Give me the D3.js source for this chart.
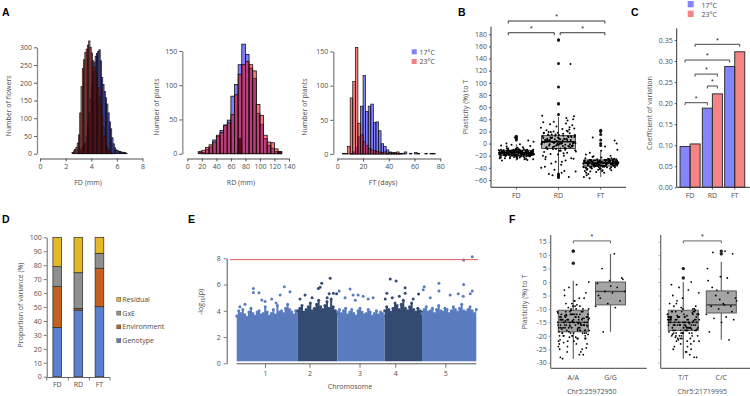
<!DOCTYPE html>
<html><head><meta charset="utf-8">
<script src="https://cdn.jsdelivr.net/npm/d3@7/dist/d3.min.js"></script>
<style>
html,body{margin:0;padding:0;background:#fff;}
svg{display:block;}
</style></head>
<body>
<svg id="chart" width="750" height="396"></svg>
<script>
// ================= DATA =================
const temps = ["17°C", "23°C"];
const traits = ["FD", "RD", "FT"];

// ---- Panel A: histograms (counts per bin) ----
const fd17Start = 2.9, fd23Start = 2.5, fdBin = 0.1;
const fd17 = [2,4,8,14,20,25,30,50,80,115,155,195,230,258,275,283,288,293,262,215,195,175,158,140,115,90,70,45,28,17,11,9,7,6,5,4,4,3,1];
const fd23 = [3,8,12,18,30,53,115,189,240,265,285,295,306,318,300,284,262,245,232,210,185,160,135,105,75,50,30,18,10,5,3,1];
const fdXTicks = [0,2,4,6,8], fdYTicks = [0,50,100,150,200,250,300];

const rdStart = 15, rdBin = 5;
const rd17 = [0,2,6,10,20,25,34,42,49,84,101,130,160,145,125,110,59,43,22,12,8,3,1];
const rd23 = [0,5,9,13,17,27,31,41,45,57,86,116,130,135,130,121,72,56,27,17,16,7,3];
const rdDark = [3,0,0,0,0,0,0,0,0,0,0,22,0,0,0,0,0,0,0,0,0,0,3];
const rdXTicks = [0,20,40,60,80,100,120,140], rdYTicks = [0,50,100,150];

const ftStart = 4, ftBin = 2;
const ft17 = [0,0,0,1,3,10,25,70,115,62,70,73,46,47,34,15,11,6,3,2,2,1,1,1,3,0,1,0,2,1,0,0,1,0,1,0];
const ft23 = [1,1,11,82,106,156,45,28,18,12,8,6,5,4,3,2,3,1,2,1,1,3,1,0,0,0,0,0,0,0,0,0,0,0,0,1];
const ftXTicks = [0,20,40,60,80], ftYTicks = [0,50,100,150];

// ---- Panel B: plasticity (%) to T ----
const bYTicks = [-60,-40,-20,0,20,40,60,80,100,120,140,160,180];
const bQ1 = [-19,-8,-37], bMed = [-15,3,-32], bQ3 = [-11,13,-27], bLo = [-28,-52,-55], bHi = [-1,44,-13];
const bPtsFD = [-15,-12,-18,-20,-14,-9,-22,-16,-13,-17,-11,-19,-24,-15,-8,-21,-14,-12,-16,-18,-10,-23,-15,-13,-17,-20,-6,-14,-16,-12,-19,-25,-11,-15,-17,-13,-21,-9,-16,-18,-14,-12,-20,-15,-27,-10,-17,-13,-16,-19,-22,-14,-11,-15,-18,-12,-5,-16,-20,-13,-17,-24,-15,-9,-14,-19,-12,-16,-21,-11,-18,-15,-13,-26,-17,-14,-10,-20,-16,-12,-23,-15,-18,-13,-7,-19,-14,-16,-11,-21,-17,-15,-12,-28,-18,-14,-13,-16,-20,-10,-15,-22,-17,-12,-4,-19,-14,-16,-2,3,-1,0,5,10,-3,
  -16,-13,-19,-11,-17,-21,-14,-18,-12,-15,-20,-9,-16,-23,-13,-17,-10,-19,-14,-22,-15,-12,-18,-16,-25,-11,-14,-20,-17,-13,-8,-16,-19,-15,-21,-12,-18,-14,-24,-17,-13,-15,-19,-11,-16,-22,-14,-18,-12,-26,-15,-17,-20,-13,-10,-16,-19,-14,-18,-15];
const bPtsRD = [5,-3,12,0,18,-8,3,25,-12,8,-5,15,2,-20,10,30,-2,6,-15,20,1,-30,14,-7,4,35,-10,9,-25,0,22,-4,7,-40,16,-1,11,-18,3,42,-6,13,-35,5,27,-9,2,-45,19,-3,8,-22,38,1,-13,24,-50,6,-2,17,-28,10,45,-8,4,-55,13,0,-16,32,-5,9,-38,21,2,-11,-48,15,-1,28,-20,7,-33,40,3,-7,12,-43,26,-4,5,-24,18,-14,33,-52,11,0,-9,23,-30,46,8,-17,-3,14,-26,6,36,-46,1,19,131,
  4,9,-2,15,1,7,-6,11,3,-1,13,6,-4,10,2,8,-9,14,0,5,17,-3,12,-7,9,1,-12,6,20,-5];
const bPtsFT = [-32,-28,-36,-30,-40,-25,-34,-31,-38,-27,-44,-33,-29,-35,-22,-37,-30,-42,-26,-33,-31,-48,-28,-35,-39,-24,-32,-36,-29,-45,-34,-20,-31,-38,-27,-41,-33,-30,-52,-26,-35,-29,-37,-15,-32,-43,-28,-34,-31,-39,-23,-36,-30,-47,-33,-27,-40,-29,-35,-18,-32,-38,-26,-44,-31,-34,-28,-55,-36,-30,-25,-41,-33,-29,-37,-10,-32,-46,-27,-35,-31,-39,-21,-34,-30,-50,-28,-36,-33,-5,-38,-26,-42,-31,-29,-35,0,-32,-57,-24,-37,-30,-34,10,5,-12,
  -33,-29,-36,-31,-38,-27,-34,-30,-40,-32,-28,-35,-37,-31,-33,-26,-39,-30,-34,-29,-36,-43,-32,-28,-35,-31,-38,-33,-30,-45,-27,-34,-32,-36,-29,-41,-33,-31,-37,-30,-35,-28,-48,-32,-34,-30,-36,-31,-39,-33];
const bOutFD = [12,10,8,6];
const bOutRD = [170,171,132,93,66,65,48,-50,-52,-54,-56];
const bOutFT = [22,20,15,6,0,-3];

// ---- Panel C: coefficient of variation ----
const cv17 = [0.097, 0.188, 0.287];
const cv23 = [0.103, 0.222, 0.322];
const cYTicks = [0,0.05,0.10,0.15,0.20,0.25,0.30,0.35];

// ---- Panel D: proportion of variance (%) ----
const varNames = ["Genotype","Environment","GxE","Residual"];
const vGenotype = [35.4, 47.8, 50.2];
const vEnvironment = [29.2, 1.2, 27.6];
const vGxE = [14.4, 25.6, 10.7];
const vResidual = [21.0, 25.4, 11.5];
const dYTicks = [0,10,20,30,40,50,60,70,80,90,100];

// ---- Panel E: Manhattan plot ----
const chrNames = ["1","2","3","4","5"];
const chrLen = [30.4, 19.7, 23.5, 18.6, 27.0];
const chrTickPos = [14.1, 5.8, 11.0, 5.3, 11.6];
const eYTicks = [0,2,4,6,8];
const eThreshold = 7.9;
const env1 = [3.6,4.0,3.8,4.1,3.7,3.5,3.9,4.2,3.8,3.6,3.9,4.0,3.7,3.8,4.3,3.9,3.6,3.8,4.1,3.7,4.4,3.9,4.0,3.8,4.2,4.5,4.1,3.9,3.7,4.0,3.8];
const env2 = [4.0,4.2,4.4,3.9,4.1,4.3,4.6,4.0,4.2,4.5,4.8,4.3,4.1,4.4,4.7,4.2,4.9,4.3,4.0,3.8];
const env3 = [3.9,4.1,3.8,4.0,4.2,3.7,3.9,4.1,3.8,3.6,4.0,4.2,3.9,3.7,3.8,4.1,3.9,3.6,3.8,4.0,3.7,3.9,3.8,3.6];
const env4 = [4.0,4.3,4.1,3.9,4.2,4.6,4.4,4.1,4.5,4.8,4.2,4.0,4.3,4.6,4.1,3.9,4.2,4.0,3.9];
const env5 = [3.8,4.1,4.3,3.9,4.0,4.2,3.8,4.1,4.4,4.0,3.9,4.2,4.1,3.8,4.0,4.3,4.1,3.9,4.2,4.5,4.0,3.9,4.1,4.3,4.0,3.8,4.1];
const ePeaks = [
 [0,8.3,5.7],[0,8.3,5.4],[0,11.1,5.38],[0,23.7,5.84],[0,26.5,5.46],[0,21.6,5.2],[0,12.5,4.82],[0,17.4,4.9],[0,4.1,4.5],[0,1.6,4.3],[0,19.6,4.6],[0,14.1,4.7],
 [1,16.1,6.48],[1,11.9,6.1],[1,11.1,5.8],[1,10.2,5.7],[1,17.7,5.33],[1,15.6,5.3],[1,3.6,5.2],[1,7.1,5.0],[1,1.1,4.9],[1,14.6,5.0],[1,19.3,5.3],
 [2,6.3,5.66],[2,0.9,5.5],[2,7.8,5.2],[2,10.3,5.2],[2,3.8,5.0],[2,12.8,5.1],[2,15.3,4.9],[2,17.8,5.0],[2,8.9,4.8],
 [3,2.8,6.42],[3,5.7,6.27],[3,10.2,5.76],[3,1.1,5.33],[3,10.2,5.33],[3,16.9,5.28],[3,3.8,5.0],[3,7.3,5.1],[3,14.2,4.9],[3,0.3,4.9],
 [4,8.4,6.1],[4,20.7,6.0],[4,1.1,5.84],[4,8.4,5.5],[4,0.6,5.6],[4,18.0,5.3],[4,14.0,5.2],[4,20.5,5.1],[4,4.1,5.0],[4,24.0,5.3],[4,25.0,5.5],[4,20.7,7.87],[4,25.0,8.12]
];

// ---- Panel F: plasticity by genotype ----
const fYTicks = [15,10,5,0,-5,-10,-15,-20,-25,-30];
const fYTickLabels = ["15","10","5","0","5","-10","-15","-20","-25","-30"];
const fGeno1 = ["A/A","G/G"], fGeno2 = ["T/T","C/C"];
const fSnp = ["Chr5:25972950","Chr5:21719995"];
const fQ1 = [-18.5,-8.5,-18,-11.5], fMed = [-15,-3.5,-15,-8.5], fQ3 = [-10.5,0,-10.5,-3.3], fLo = [-28.5,-18.5,-28.5,-21.5], fHi = [0.5,10.5,0,7.5];
const fPtsAA = [-15,-12.5,-18,-20,-14,-9,-22,-16.5,-13,-17,-11,-19,-24,-15.5,-8,-21,-14,-12,-16,-18.5,-10,-23,-15,-13.5,-17,-20,-6,-14,-16,-12,-19,-25,-11,-15,-17.5,-13,-21,-9,-16,-18,-14,-12,-20.5,-15,-27,-10,-17,-13,-16,-19,-22,-14,-11,-15,-18,-12,-5,-16,-20,-13,-17,-24,-15,-9,-14,-19,-12,-16,-21,-11,-18,-15,-13,-26,-17,-14,-10,-20,-16,-12,-23,-15,-18,-13,-7,-19,-14,-16,-11,-21,-17,-15,-12,-28,-18,-14,-13,-16,-20,-10,-15,-22,-17,-12,-4,-19,-14,-16,-2,0,-1,-3,-6,-8,-25,-27,-26,-23,-7,-28.5,
  -13.5,-16.5,-11.5,-18,-14.5,-20,-12,-17,-15.5,-9.5,-19.5,-13,-22.5,-16,-10.5,-18.5,-14,-12.5,-24.5,-15,-17.5,-11,-20.5,-13.5,-8.5,-16,-19,-14.5,-21.5,-12];
const fPtsGG = [10.5,5,1.5,0.5,-0.5,-2,-3.5,-3.5,-4,-6,-7,-8,-9,-9.5,-18.5,1,-1.5,-5];
const fPtsTT = [-14,-16,-11,-19,-13,-17,-21,-12,-15,-18,-10,-23,-16,-14,-20,-9,-17,-13,-25,-15,-12,-18,-16,-22,-11,-14,-19,-7,-15,-13,-17,-20,-16,-12,-24,-14,-18,-10,-15,-21,-13,-17,-26,-16,-11,-19,-14,-15,-8,-18,-12,-20,-16,-13,-22,-17,-15,-10,-19,-14,-27,-16,-12,-18,-5,-15,-21,-13,-17,-11,-16,-19,-14,-23,-15,-12,-18,-9,-16,-20,-13,-17,-14,-28,-15,-11,-19,-16,-12,-22,-18,-14,-6,-15,-17,-13,-20,-16,-25,-12,-18,-15,-3,-19,-14,-17,-1,0,-2,-4,-26,-24,-28,-21,-8,
  -15.5,-12.5,-17.5,-13,-19.5,-11.5,-16,-14,-18,-20.5,-10.5,-15,-13.5,-17,-21.5,-12,-16.5,-19,-14.5,-9.5,-18.5,-15,-22,-13,-16,-11,-17.5,-20,-14,-12.5];
const fPtsCC = [11.5,11,10.5,2,0.5,-4,-5,-6,-8,-9,-9,-10,-12,-13,-13.5,-14,-15,-18.5,-21.5,-3,-7,-8.5,-2,-11,-6.5,5,1.5];
const fOut = [[11.5,11.5,7],[],[5,1.5],[11.5,10.5]];

// ================= DRAWING =================
const svg = d3.select("#chart");
const FONT = "'Open Sans','Liberation Sans',sans-serif";
const TXT = "#4d4d4d";
const BLUE = "rgb(0,0,255)", RED = "rgb(235,0,0)";

function text(x, y, s, o = {}) {
  const t = svg.append("text").attr("x", x).attr("y", y).text(s)
    .attr("font-family", o.font || FONT).attr("font-size", o.size || 7)
    .attr("fill", o.fill || TXT).attr("text-anchor", o.anchor || "start");
  if (o.weight) t.attr("font-weight", o.weight);
  if (o.rotate) t.attr("transform", `rotate(-90,${x},${y})`);
  return t;
}
function panelLetter(x, y, s) { text(x, y, s, { size: 10.5, weight: "bold", fill: "#000", font: "'Liberation Sans',Arial,sans-serif" }); }
function styleAxis(g, col, w, tcol) {
  g.selectAll("path.domain").attr("stroke", col).attr("stroke-width", w);
  g.selectAll(".tick line").attr("stroke", tcol || col).attr("stroke-width", 0.8);
  g.selectAll(".tick text").attr("fill", TXT).attr("font-family", FONT).attr("font-size", 7);
}
const jit = i => (((i + 1) * 0.6180339887) % 1) * 2 - 1;
function bracket(x1, x2, yy, col) {
  svg.append("path").attr("d", `M${x1},${yy + 2.5}V${yy}H${x2}V${yy + 2.5}`).attr("fill", "none").attr("stroke", col).attr("stroke-width", 0.9);
  text((x1 + x2) / 2, yy - 1.8, "*", { anchor: "middle", size: 7, fill: "#222", font: "'Liberation Sans',Arial,sans-serif" });
}

// ---------- Panel A ----------
function histPanel(o) {
  const x = d3.scaleLinear().domain([o.xTicks[0], o.xTicks[o.xTicks.length - 1]]).range(o.xRange);
  const y = d3.scaleLinear().domain([0, o.yTicks[o.yTicks.length - 1]]).range(o.yRange);
  const g = svg.append("g");
  o.series.forEach(s => {
    const bins = s.counts.map((c, i) => ({ x0: s.start + i * o.bw, c })).filter(d => d.c > 0);
    g.selectAll(null).data(bins).join("rect")
      .attr("x", d => x(d.x0)).attr("width", d => x(d.x0 + o.bw) - x(d.x0))
      .attr("y", d => y(d.c)).attr("height", d => y(0) - y(d.c))
      .attr("fill", s.color).attr("fill-opacity", s.op)
      .attr("stroke", "#111").attr("stroke-width", o.sw);
  });
  const ya = svg.append("g").attr("transform", `translate(${o.yAxisX},0)`)
    .call(d3.axisLeft(y).tickValues(o.yTicks).tickSize(3).tickSizeOuter(0).tickPadding(2));
  styleAxis(ya, "#8a8a8a", 1.3, "#333");
  const xa = svg.append("g").attr("transform", `translate(0,${o.xAxisY})`)
    .call(d3.axisBottom(x).tickValues(o.xTicks).tickSize(3).tickSizeOuter(0).tickPadding(3));
  styleAxis(xa, "#8a8a8a", 1.3, "#333");
  text(o.yTitle[0], o.yTitle[1], o.yTitle[2], { anchor: "middle", rotate: true, size: 7 });
  text(o.xTitle[0], o.xTitle[1], o.xTitle[2], { anchor: "middle", size: 7 });
}
histPanel({ xTicks: fdXTicks, xRange: [40, 142.5], yTicks: fdYTicks, yRange: [153.7, 47.3], bw: fdBin, sw: 0.7,
  series: [{ counts: fd17, start: fd17Start, color: BLUE, op: 0.55 }, { counts: fd23, start: fd23Start, color: RED, op: 0.55 }],
  yAxisX: 37, xAxisY: 158.5, yTitle: [11, 106, "Number of flowers"], xTitle: [88, 185, "FD (mm)"] });
histPanel({ xTicks: rdXTicks, xRange: [187.3, 289], yTicks: rdYTicks, yRange: [153.7, 51], bw: rdBin, sw: 0.8,
  series: [{ counts: rd17, start: rdStart, color: BLUE, op: 0.5 }, { counts: rd23, start: rdStart, color: RED, op: 0.5 }, { counts: rdDark, start: rdStart, color: "#5a0018", op: 0.9 }],
  yAxisX: 182.3, xAxisY: 158.5, yTitle: [158.5, 107, "Number of plants"], xTitle: [241, 185, "RD (mm)"] });
histPanel({ xTicks: ftXTicks, xRange: [337.3, 440.3], yTicks: ftYTicks, yRange: [154, 51.5], bw: ftBin, sw: 0.7,
  series: [{ counts: ft17, start: ftStart, color: BLUE, op: 0.5 }, { counts: ft23, start: ftStart, color: RED, op: 0.5 }],
  yAxisX: 333.3, xAxisY: 158.5, yTitle: [307, 107, "Number of plants"], xTitle: [383, 185, "FT (days)"] });
[BLUE, RED].forEach((c, i) => {
  svg.append("rect").attr("x", 411.7).attr("y", 49.3 + i * 9.7).attr("width", 5).attr("height", 5).attr("fill", c).attr("fill-opacity", 0.5);
  text(419.5, 54.5 + i * 9.7, temps[i], { size: 7 });
});
panelLetter(2, 16, "A");

// ---------- Panel B ----------
{
  const y = d3.scaleLinear().domain([-60, 180]).range([180, 34.3]);
  const x = d3.scaleLinear().domain([0.4, 3.6]).range([491, 626]);
  const unit = x(1) - x(0);
  const pts = [bPtsFD, bPtsRD, bPtsFT], outs = [bOutFD, bOutRD, bOutFT];
  traits.forEach((t, k) => {
    const cx = x(k + 1), hw = 0.4 * unit;
    svg.append("line").attr("x1", cx).attr("x2", cx).attr("y1", y(bHi[k])).attr("y2", y(bLo[k])).attr("stroke", "#222").attr("stroke-width", 0.8);
    svg.append("rect").attr("x", cx - hw).attr("width", 2 * hw).attr("y", y(bQ3[k])).attr("height", y(bQ1[k]) - y(bQ3[k]))
      .attr("fill", "#9a9a9a").attr("fill-opacity", 0.7).attr("stroke", "#222").attr("stroke-width", 0.8);
    svg.append("line").attr("x1", cx - hw).attr("x2", cx + hw).attr("y1", y(bMed[k])).attr("y2", y(bMed[k])).attr("stroke", "#111").attr("stroke-width", 1.3);
    svg.selectAll(null).data(pts[k]).join("circle").attr("cx", (d, i) => cx + jit(i) * 0.42 * unit).attr("cy", d => y(d)).attr("r", 1).attr("fill", "#000");
    svg.selectAll(null).data(outs[k]).join("circle").attr("cx", cx).attr("cy", d => y(d)).attr("r", 1.5).attr("fill", "#111");
  });
  const ya = svg.append("g").attr("transform", "translate(491,0)").call(d3.axisLeft(y).tickValues(bYTicks).tickSize(2).tickSizeOuter(0).tickPadding(2));
  ya.select("path.domain").remove();
  styleAxis(ya, "#333", 1, "#333");
  svg.append("line").attr("x1", 491).attr("x2", 491).attr("y1", 26.7).attr("y2", 187.3).attr("stroke", "#333").attr("stroke-width", 1);
  svg.append("line").attr("x1", 491).attr("x2", 626).attr("y1", 187.3).attr("y2", 187.3).attr("stroke", "#333").attr("stroke-width", 1);
  traits.forEach((t, k) => {
    svg.append("line").attr("x1", x(k + 1)).attr("x2", x(k + 1)).attr("y1", 187.3).attr("y2", 189.5).attr("stroke", "#333").attr("stroke-width", 0.8);
    text(x(k + 1), 198, t, { anchor: "middle", size: 7 });
  });
  text(468, 107, "Plasticity (%) to T", { anchor: "middle", rotate: true, size: 7 });
  const br = [[0.81, 1.9, 182.6], [2.04, 3.1, 182.6], [0.81, 3.1, 201.9]];
  br.forEach(b => bracket(x(b[0]), x(b[1]), y(b[2]), "#222"));
  panelLetter(458, 16, "B");
}

// ---------- Panel C ----------
{
  const y = d3.scaleLinear().domain([0, 0.35]).range([187.3, 40]);
  const x = d3.scaleLinear().domain([0.4, 3.6]).range([676.7, 748.1]);
  const unit = x(1) - x(0), bw = 0.45 * unit;
  traits.forEach((t, k) => {
    const cx = x(k + 1);
    [[cv17, BLUE, -1], [cv23, RED, 0]].forEach(([arr, col, off]) => {
      svg.append("rect").attr("x", cx + off * bw).attr("width", bw).attr("y", y(arr[k])).attr("height", y(0) - y(arr[k]))
        .attr("fill", col).attr("fill-opacity", 0.48).attr("stroke", "#333").attr("stroke-width", 1);
    });
    text(cx, 198, t, { anchor: "middle", size: 7 });
    svg.append("line").attr("x1", cx).attr("x2", cx).attr("y1", 187.3).attr("y2", 189.5).attr("stroke", "#333").attr("stroke-width", 0.8);
  });
  const ya = svg.append("g").attr("transform", "translate(676.7,0)").call(d3.axisLeft(y).tickValues(cYTicks).tickFormat(d3.format(".2f")).tickSize(2).tickSizeOuter(0).tickPadding(2));
  ya.select("path.domain").remove();
  styleAxis(ya, "#333", 1, "#333");
  svg.append("line").attr("x1", 676.7).attr("x2", 676.7).attr("y1", 28.3).attr("y2", 187.3).attr("stroke", "#333").attr("stroke-width", 1);
  svg.append("line").attr("x1", 676.7).attr("x2", 750).attr("y1", 187.3).attr("y2", 187.3).attr("stroke", "#333").attr("stroke-width", 1);
  text(652, 113, "Coefficient of variation", { anchor: "middle", rotate: true, size: 7 });
  const bars = (g, tt) => x(g + 1) + (tt === 0 ? -bw / 2 : bw / 2);
  const br = [[0, 0, 1, 0, 0.201], [1, 0, 1, 1, 0.2407], [0, 1, 1, 1, 0.269], [0, 0, 2, 0, 0.3024], [0, 1, 2, 1, 0.3397]];
  br.forEach(b => bracket(bars(b[0], b[1]), bars(b[2], b[3]), y(b[4]), "#333"));
  [BLUE, RED].forEach((c, i) => {
    svg.append("rect").attr("x", 687.7).attr("y", 1 + i * 9.7).attr("width", 6).attr("height", 6.3).attr("fill", c).attr("fill-opacity", 0.48);
    text(701.5, 7.5 + i * 9.7, temps[i], { size: 7 });
  });
  panelLetter(631, 16, "C");
}

// ---------- Panel D ----------
{
  const y = d3.scaleLinear().domain([0, 100]).range([376.7, 237.3]);
  const x = d3.scaleBand().domain(traits).range([46.7, 110]);
  const cols = { Genotype: "#5a7fcc", Environment: "#c5601f", GxE: "#8f8f8f", Residual: "#e6b726" };
  const comp = { Genotype: vGenotype, Environment: vEnvironment, GxE: vGxE, Residual: vResidual };
  const bw = 8.7;
  traits.forEach((t, k) => {
    let base = 0;
    varNames.forEach(n => {
      const v = comp[n][k];
      svg.append("rect").attr("x", x(t) + x.bandwidth() / 2 - bw / 2).attr("width", bw).attr("y", y(base + v)).attr("height", y(base) - y(base + v))
        .attr("fill", cols[n]).attr("stroke", "#2a2a2a").attr("stroke-width", 0.7);
      base += v;
    });
    text(x(t) + x.bandwidth() / 2, 386.5, t, { anchor: "middle", size: 7 });
  });
  const ya = svg.append("g").attr("transform", "translate(46.7,0)").call(d3.axisLeft(y).tickValues(dYTicks).tickSize(3).tickSizeOuter(0).tickPadding(2));
  styleAxis(ya, "#555", 0.9, "#555");
  svg.append("line").attr("x1", 46.7).attr("x2", 110).attr("y1", 377.5).attr("y2", 377.5).attr("stroke", "#555").attr("stroke-width", 0.9);
  [46.7, 68.3, 89.3, 110].forEach(xx => svg.append("line").attr("x1", xx).attr("x2", xx).attr("y1", 377.5).attr("y2", 380.5).attr("stroke", "#555").attr("stroke-width", 0.8));
  text(22.5, 305, "Proportion of variance (%)", { anchor: "middle", rotate: true, size: 7 });
  varNames.slice().reverse().forEach((n, i) => {
    svg.append("rect").attr("x", 116.8).attr("y", 297.3 + i * 13.8).attr("width", 4).attr("height", 4).attr("fill", cols[n]).attr("stroke", "#333").attr("stroke-width", 0.4);
    text(122.3, 301.8 + i * 13.8, n, { size: 7 });
  });
  panelLetter(2, 223, "D");
}

// ---------- Panel E ----------
{
  const starts = [0, ...d3.cumsum(chrLen)];
  const x = d3.scaleLinear().domain([0, starts[5]]).range([236.7, 476.3]);
  const y = d3.scaleLinear().domain([0, 8]).range([363.3, 258.3]);
  const envs = [env1, env2, env3, env4, env5];
  const cl = ["#5a7cbf", "#354a70"];
  envs.forEach((e, c) => {
    const pts = e.map((v, i) => [starts[c] + i * chrLen[c] / (e.length - 1), v]);
    const area = d3.area().x(d => x(d[0])).y0(y(0.15)).y1(d => y(d[1])).curve(d3.curveStep);
    svg.append("path").attr("d", area(pts)).attr("fill", cl[c % 2]);
    svg.selectAll(null).data(pts).join("circle").attr("cx", d => x(d[0])).attr("cy", d => y(d[1])).attr("r", 1.5).attr("fill", cl[c % 2]);
  });
  svg.selectAll(null).data(ePeaks).join("circle").attr("cx", d => x(starts[d[0]] + d[1])).attr("cy", d => y(d[2])).attr("r", 1.5).attr("fill", d => cl[d[0] % 2]);
  svg.append("line").attr("x1", 230).attr("x2", 478).attr("y1", y(eThreshold)).attr("y2", y(eThreshold)).attr("stroke", "#e05a5a").attr("stroke-width", 1);
  const ya = svg.append("g").attr("transform", "translate(226.7,0)").call(d3.axisLeft(y).tickValues(eYTicks).tickSize(3).tickSizeOuter(0).tickPadding(3));
  styleAxis(ya, "#555", 1, "#555");
  const xa = svg.append("g").attr("transform", "translate(0,363.8)")
    .call(d3.axisBottom(x).tickValues(chrTickPos.map((p, i) => starts[i] + p)).tickFormat((d, i) => chrNames[i]).tickSize(4).tickSizeOuter(0).tickPadding(3));
  xa.select("path.domain").attr("d", `M236.7,0H476.3`);
  styleAxis(xa, "#555", 1, "#555");
  text(350, 389, "Chromosome", { anchor: "middle", size: 7 });
  const yt = svg.append("text").attr("transform", "translate(203,302) rotate(-90)").attr("text-anchor", "middle")
    .attr("font-family", FONT).attr("font-size", 7).attr("fill", TXT);
  yt.append("tspan").text("-log");
  yt.append("tspan").text("10").attr("font-size", 5).attr("dy", 2);
  yt.append("tspan").text("(p)").attr("dy", -2);
  panelLetter(188, 223, "E");
}

// ---------- Panel F ----------
{
  const y = d3.scaleLinear().domain([-30, 15]).range([362.7, 241.7]);
  const panels = [
    { ax: 550.7, xEnd: 646.7, cx: [573.3, 610.5], names: fGeno1, pts: [fPtsAA, fPtsGG], idx: [0, 1], snp: fSnp[0], labels: true },
    { ax: 660.7, xEnd: 750, cx: [683.3, 721.3], names: fGeno2, pts: [fPtsTT, fPtsCC], idx: [2, 3], snp: fSnp[1], labels: false }
  ];
  panels.forEach(p => {
    p.idx.forEach((k, j) => {
      const cx = p.cx[j], hw = 15;
      svg.append("line").attr("x1", cx).attr("x2", cx).attr("y1", y(fHi[k])).attr("y2", y(fLo[k])).attr("stroke", "#666").attr("stroke-width", 1.2);
      svg.append("rect").attr("x", cx - hw).attr("width", 2 * hw).attr("y", y(fQ3[k])).attr("height", y(fQ1[k]) - y(fQ3[k]))
        .attr("fill", "#a5a5a5").attr("stroke", "#5a5a5a").attr("stroke-width", 1);
      svg.append("line").attr("x1", cx - hw).attr("x2", cx + hw).attr("y1", y(fMed[k])).attr("y2", y(fMed[k])).attr("stroke", "#444").attr("stroke-width", 1.4);
      svg.selectAll(null).data(p.pts[j]).join("circle").attr("cx", (d, i) => cx + jit(i) * 16).attr("cy", d => y(d)).attr("r", 0.9).attr("fill", "#000");
      svg.selectAll(null).data(fOut[k]).join("circle").attr("cx", cx).attr("cy", d => y(d)).attr("r", 1.7).attr("fill", "#222");
      text(cx, 380, p.names[j], { anchor: "middle", size: 7 });
    });
    svg.append("line").attr("x1", p.ax).attr("x2", p.ax).attr("y1", 235).attr("y2", 368.3).attr("stroke", "#666").attr("stroke-width", 1.2);
    svg.append("line").attr("x1", p.ax).attr("x2", p.xEnd).attr("y1", 368.3).attr("y2", 368.3).attr("stroke", "#666").attr("stroke-width", 1.2);
    const ya = svg.append("g").attr("transform", `translate(${p.ax},0)`).call(d3.axisLeft(y).tickValues(fYTicks).tickSize(2).tickSizeOuter(0).tickPadding(2)
      .tickFormat((d, i) => p.labels ? fYTickLabels[i] : ""));
    ya.select("path.domain").remove();
    styleAxis(ya, "#666", 1, "#888");
    text((p.cx[0] + p.cx[1]) / 2, 393.5, p.snp, { anchor: "middle", size: 7 });
    bracket(p.cx[0], p.cx[1], y(15.3), "#555");
  });
  text(527, 302, "Plasticity (%) to T", { anchor: "middle", rotate: true, size: 7 });
  panelLetter(509, 223, "F");
}
</script>
</body></html>
